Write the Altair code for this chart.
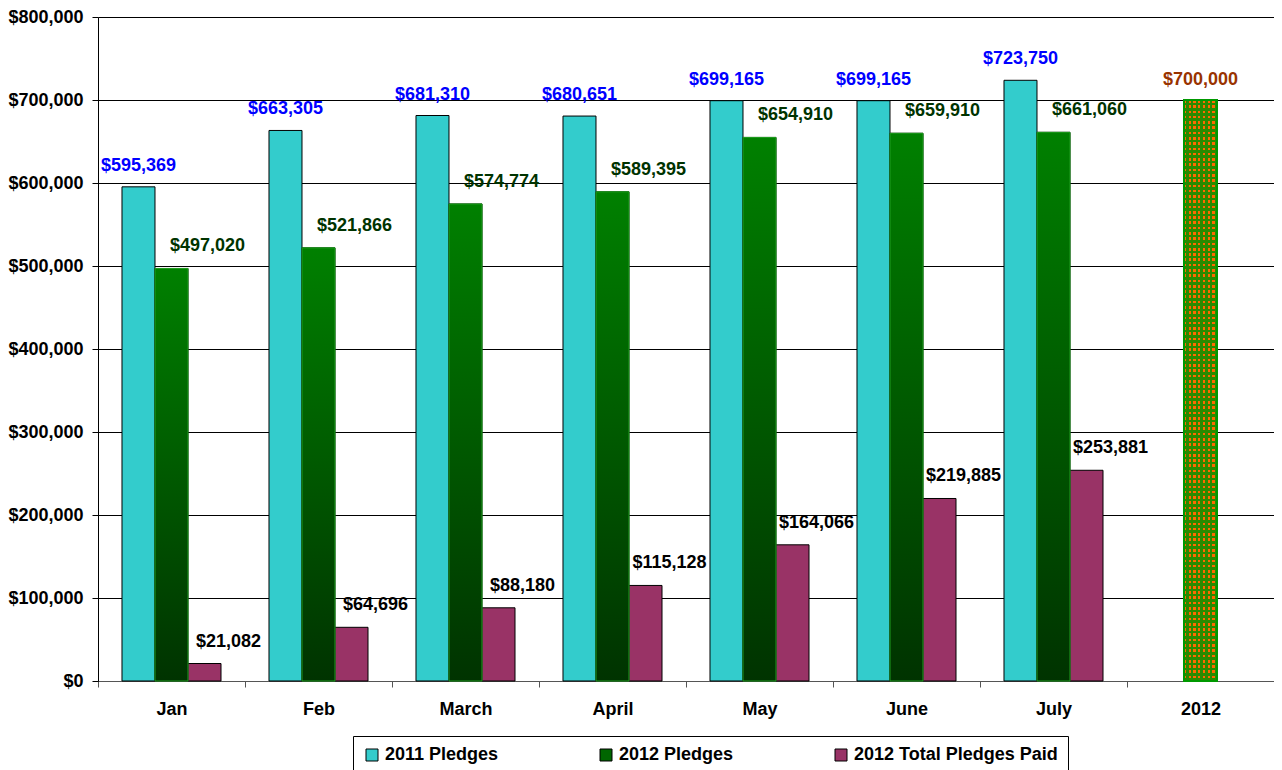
import altair as alt
import pandas as pd

months = ["Jan", "Feb", "March", "April", "May", "June", "July"]
pledges_2011 = [595369, 663305, 681310, 680651, 699165, 699165, 723750]
pledges_2012 = [497020, 521866, 574774, 589395, 654910, 659910, 661060]
paid_2012 = [21082, 64696, 88180, 115128, 164066, 219885, 253881]
target_category = "2012"
target_value = 700000
series_names = ["2011 Pledges", "2012 Pledges", "2012 Total Pledges Paid"]
categories = months + [target_category]
y_ticks = [0, 100000, 200000, 300000, 400000, 500000, 600000, 700000, 800000]

rows = []
for i, m in enumerate(months):
    for s, vals in zip(series_names, [pledges_2011, pledges_2012, paid_2012]):
        rows.append({"month": m, "series": s, "value": vals[i], "kind": "actual"})
rows.append({"month": target_category, "series": series_names[1], "value": target_value, "kind": "target"})
df = pd.DataFrame(rows)

FONT = "Liberation Sans"
CYAN = "#33CCCC"
PURPLE = "#993366"

green_grad = alt.Gradient(
    gradient="linear",
    stops=[alt.GradientStop(color="#008000", offset=0), alt.GradientStop(color="#003300", offset=1)],
    x1=0, x2=0, y1=0, y2=1,
)


def stripes(n, vertical_gradient, frac=0.5, col="#2a8a00"):
    stops = []
    clear = "rgba(0,0,0,0)"
    for k in range(n):
        a = k / n
        b = (k + frac) / n
        c = (k + 1) / n
        stops += [
            alt.GradientStop(color=clear, offset=a),
            alt.GradientStop(color=clear, offset=b),
            alt.GradientStop(color=col, offset=b),
            alt.GradientStop(color=col, offset=c),
        ]
    if vertical_gradient:
        return alt.Gradient(gradient="linear", stops=stops, x1=0, x2=0, y1=0, y2=1)
    return alt.Gradient(gradient="linear", stops=stops, x1=0, x2=1, y1=0, y2=0)


x_enc = alt.X(
    "month:N",
    sort=categories,
    scale=alt.Scale(domain=categories, paddingInner=0, paddingOuter=0),
    axis=alt.Axis(
        title=None, labelAngle=0, tickBand="extent", grid=False,
        labelFont=FONT, labelFontSize=18, labelFontWeight="bold", labelColor="black",
        domainColor="#555555", tickColor="#555555", tickSize=6, labelPadding=13,
    ),
)
xoff_enc = alt.XOffset(
    "series:N",
    scale=alt.Scale(domain=series_names, paddingInner=0, paddingOuter=0.727),
)
y_enc = alt.Y(
    "value:Q",
    scale=alt.Scale(domain=[0, 800000], nice=False),
    axis=alt.Axis(
        title=None, values=y_ticks, format="$,.0f",
        labelFont=FONT, labelFontSize=18, labelFontWeight="bold", labelColor="black",
        domainColor="black", tickColor="black", tickSize=6, labelPadding=9,
        gridColor="black", gridWidth=1, grid=True,
    ),
)

base = alt.Chart(df).encode(x=x_enc, xOffset=xoff_enc, y=y_enc)

bars = base.transform_filter(alt.datum.kind == "actual").mark_bar(
    stroke="black", strokeWidth=1
).encode(
    color=alt.Color(
        "series:N",
        scale=alt.Scale(domain=series_names, range=[CYAN, "#006600", PURPLE]),
        legend=alt.Legend(
            orient="none", legendX=255, legendY=719, direction="horizontal", columns=3,
            title=None, strokeColor="black", fillColor="white", padding=10,
            symbolType="square", symbolSize=144, symbolStrokeColor="black",
            symbolStrokeWidth=1, symbolOpacity=1,
            labelFont=FONT, labelFontSize=18, labelFontWeight="bold", labelColor="black",
            columnPadding=98, labelOffset=4, labelLimit=400,
        ),
    )
)

green_overlay = base.transform_filter(
    (alt.datum.kind == "actual") & (alt.datum.series == series_names[1])
).mark_bar(fill=green_grad, stroke="#1f9f1f", strokeWidth=1)

target_df = base.transform_filter(alt.datum.kind == "target")
target_base = target_df.mark_bar(fill="#ff6a00", stroke="#008000", strokeWidth=2)
target_h = target_df.mark_bar(fill=stripes(110, True), strokeWidth=0)
target_v = target_df.mark_bar(fill=stripes(7, False), strokeWidth=0)
target_border = target_df.mark_bar(fillOpacity=0, stroke="#009900", strokeWidth=2)

text_style = dict(font=FONT, fontSize=18, fontWeight="bold", baseline="middle", align="center")
txt = alt.Text("value:Q", format="$,.0f")

t2011 = base.transform_filter(
    (alt.datum.kind == "actual") & (alt.datum.series == series_names[0])
).mark_text(dy=-21, color="#0000FF", **text_style).encode(text=txt)
t2012 = base.transform_filter(
    (alt.datum.kind == "actual") & (alt.datum.series == series_names[1])
).mark_text(dx=36, dy=-22, color="#003300", **text_style).encode(text=txt)
tpaid = base.transform_filter(
    (alt.datum.kind == "actual") & (alt.datum.series == series_names[2])
).mark_text(dx=24, dy=-22, color="black", **text_style).encode(text=txt)
ttarget = target_df.mark_text(dy=-20, color="#993300", **text_style).encode(text=txt)

chart = alt.layer(
    bars, green_overlay, target_base, target_h, target_v, target_border,
    t2011, t2012, tpaid, ttarget,
).properties(
    width=1176, height=664,
    autosize="none",
    padding={"left": 90, "top": 9, "right": 0, "bottom": 89},
).configure_view(stroke="#808080", strokeWidth=1).configure(background="white")

chart.save("out.html", embed_options={"renderer": "svg", "actions": False})
